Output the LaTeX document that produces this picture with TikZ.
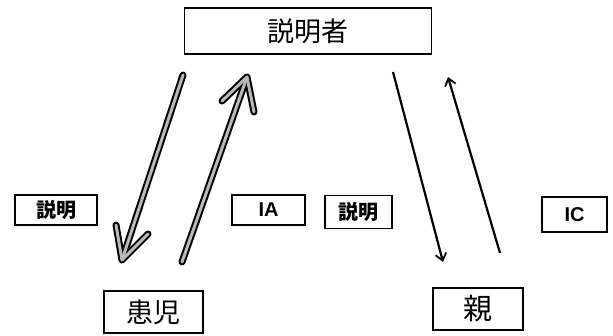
\documentclass[tikz,border=0pt]{standalone}
\usepackage{fontspec}
\newfontfamily\cjk{Noto Sans CJK JP}
\setsansfont{Liberation Sans}
\usetikzlibrary{arrows.meta}
\begin{document}
\begin{tikzpicture}[x=1pt,y=-1pt,
  box/.style={draw=black, line width=1.3pt, fill=white, inner sep=0pt},
  thin arrow/.style={line width=2.2pt, -{Straight Barb[length=7pt,width=11pt,line width=1.8pt]}},
  hollow out/.style={line width=7pt, line cap=round, line join=round, draw=black},
  hollow in/.style={line width=3pt, line cap=round, line join=round, draw=gray!55}]
\useasboundingbox (0,0) rectangle (613,335);
% boxes
\node[box, minimum width=247pt, minimum height=46pt] (expl) at (308,31) {\cjk\fontsize{27}{30}\selectfont 説明者};
\node[box, minimum width=99pt, minimum height=42pt] (child) at (153.5,312) {\cjk\fontsize{27}{30}\selectfont 患児};
\node[box, minimum width=90pt, minimum height=42pt] (parent) at (478,309) {\cjk\fontsize{29}{32}\selectfont 親};
\node[box, minimum width=82pt, minimum height=30pt] (l1) at (56,210) {\cjk\bfseries\fontsize{20}{22}\selectfont 説明};
\node[box, minimum width=73pt, minimum height=30pt] (l2) at (268.5,210) {\sffamily\bfseries\fontsize{20}{22}\selectfont IA};
\node[box, minimum width=67pt, minimum height=33pt] (l3) at (358.5,212) {\cjk\bfseries\fontsize{20}{22}\selectfont 説明};
\node[box, minimum width=65pt, minimum height=35pt] (l4) at (574.5,214.5) {\sffamily\bfseries\fontsize{20}{22}\selectfont IC};
% coordinates for arrows
\coordinate (a1s) at (183,75);
\coordinate (a1t) at (122,260);
\coordinate (a1b1) at (116,225);
\coordinate (a1b2) at (148,234);
\coordinate (a2s) at (182,262);
\coordinate (a2t) at (247,77);
\coordinate (a2b1) at (222,101);
\coordinate (a2b2) at (254,112);
\coordinate (a3s) at (393,72);
\coordinate (a3t) at (443,262);
\coordinate (a4s) at (500,253);
\coordinate (a4t) at (448,77);
% hollow arrows
\foreach \st in {hollow out, hollow in}{
  \draw[\st] (a1s) -- (a1t);
  \draw[\st] (a1b1) -- (a1t) -- (a1b2);
  \draw[\st] (a2s) -- (a2t);
  \draw[\st] (a2b1) -- (a2t) -- (a2b2);
}
% thin arrows
\draw[thin arrow] (a3s) -- (a3t);
\draw[thin arrow] (a4s) -- (a4t);
\end{tikzpicture}
\end{document}
